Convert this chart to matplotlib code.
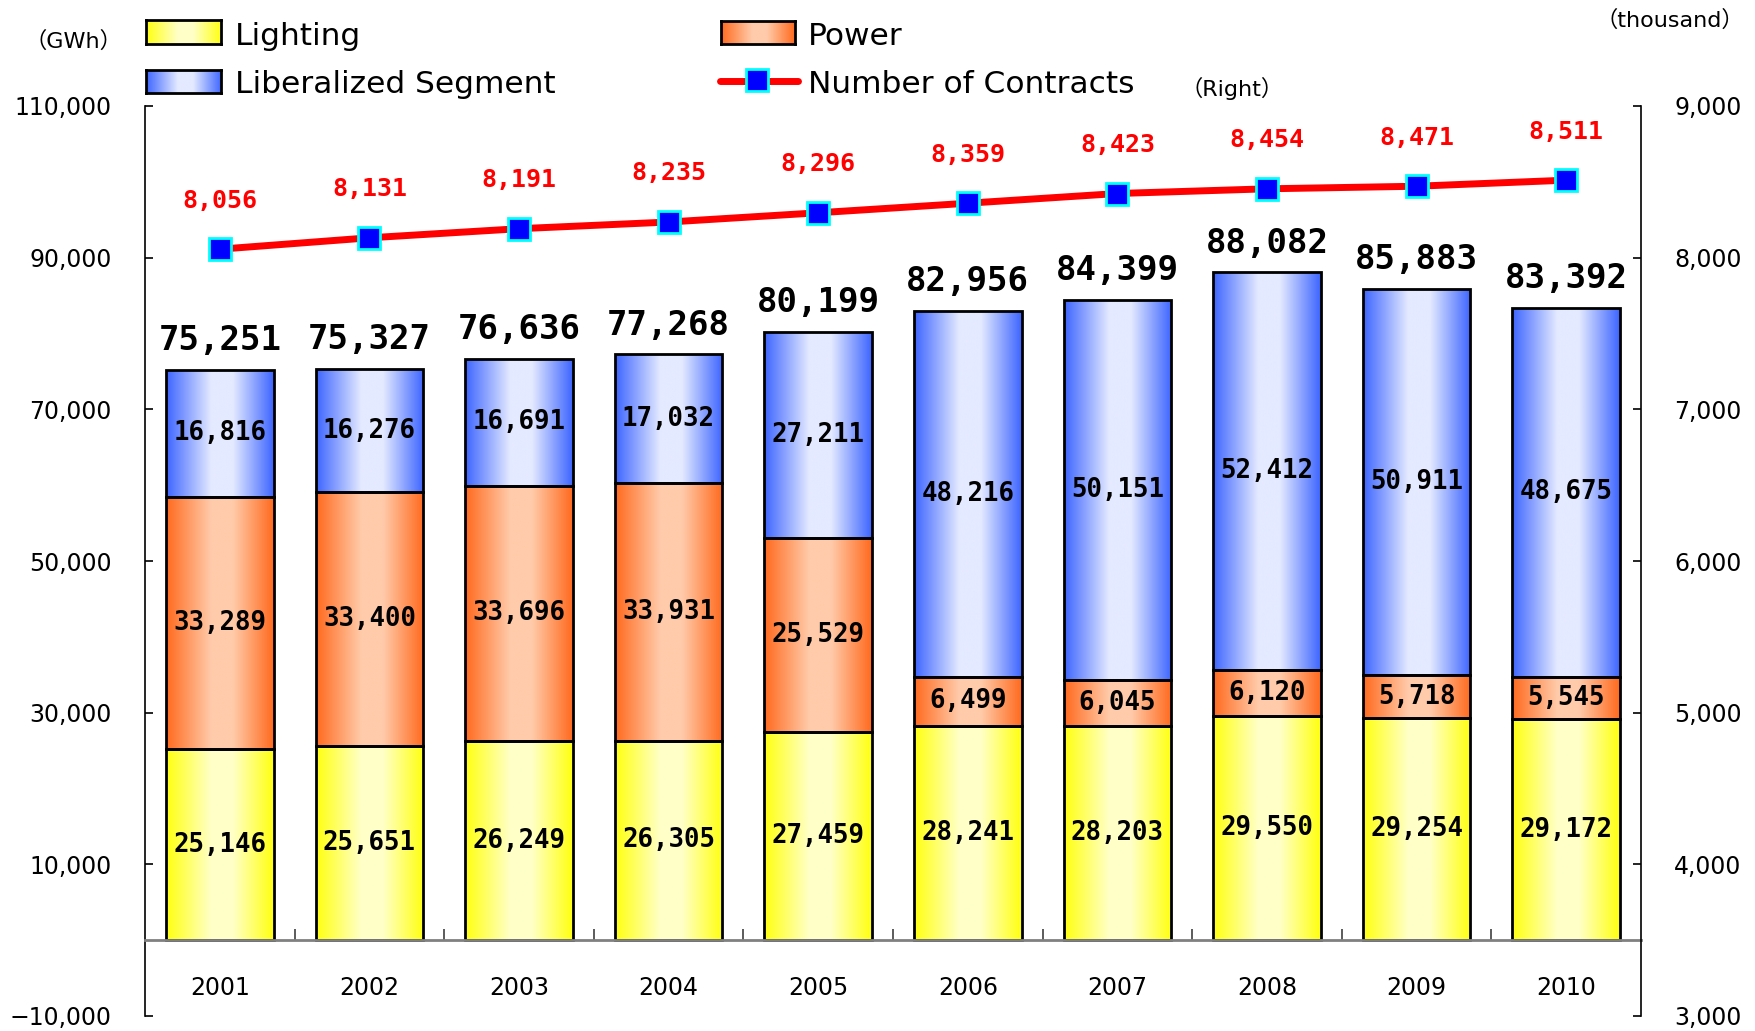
import numpy as np
import matplotlib
matplotlib.use("Agg")
import matplotlib.pyplot as plt
from matplotlib.colors import LinearSegmentedColormap
from matplotlib.lines import Line2D
from matplotlib.ticker import FuncFormatter

# data (GWh, thousand contracts)
years = ["2001", "2002", "2003", "2004", "2005", "2006", "2007", "2008", "2009", "2010"]
lighting = [25146, 25651, 26249, 26305, 27459, 28241, 28203, 29550, 29254, 29172]
power = [33289, 33400, 33696, 33931, 25529, 6499, 6045, 6120, 5718, 5545]
liberalized = [16816, 16276, 16691, 17032, 27211, 48216, 50151, 52412, 50911, 48675]
totals = [75251, 75327, 76636, 77268, 80199, 82956, 84399, 88082, 85883, 83392]
contracts = [8056, 8131, 8191, 8235, 8296, 8359, 8423, 8454, 8471, 8511]

W, H = 1756, 1031
CJK = ["DejaVu Sans", "Noto Sans CJK JP"]
MONO = "DejaVu Sans Mono"


def grad_cmap(edge, light):
    return LinearSegmentedColormap.from_list(
        "", [(0, edge), (0.42, light), (0.62, light), (1, edge)])


cm_light = grad_cmap("#FFFF10", "#FFFFC8")
cm_power = grad_cmap("#FF6A1E", "#FFCBAA")
cm_lib = grad_cmap("#3D65FF", "#E4EAFF")
grad = np.linspace(0, 1, 256).reshape(1, -1)

fig = plt.figure(figsize=(W / 100, H / 100), dpi=100)
ax = fig.add_axes([145 / W, 1 - 1016 / H, (1641 - 145) / W, (1016 - 106) / H])

x = np.arange(len(years))
bottom2 = np.array(lighting) + np.array(power)


def gradient_bars(bars, cmap):
    for r in bars:
        x0, y0 = r.get_x(), r.get_y()
        im = ax.imshow(grad, cmap=cmap, aspect="auto", interpolation="bilinear",
                       extent=(x0, x0 + r.get_width(), y0, y0 + r.get_height()),
                       zorder=1.5)
        im.set_clip_path(r)


def bar_labels(bars, values):
    for r, v in zip(bars, values):
        ax.text(r.get_x() + r.get_width() / 2, r.get_y() + r.get_height() / 2,
                f"{v:,}", ha="center", va="center", fontsize=18.5,
                fontfamily=MONO, fontweight="bold", zorder=3)


bw = 0.72
b1 = ax.bar(x, lighting, bw, facecolor="none", edgecolor="black", lw=2, zorder=2)
b2 = ax.bar(x, power, bw, bottom=lighting, facecolor="none", edgecolor="black", lw=2, zorder=2)
b3 = ax.bar(x, liberalized, bw, bottom=bottom2, facecolor="none", edgecolor="black", lw=2, zorder=2)
for bars, cm, vals in [(b1, cm_light, lighting), (b2, cm_power, power), (b3, cm_lib, liberalized)]:
    gradient_bars(bars, cm)
    bar_labels(bars, vals)

for xi, t in zip(x, totals):
    ax.annotate(f"{t:,}", (xi, t), xytext=(0, 21), textcoords="offset points",
                ha="center", va="center", fontsize=24.5, fontfamily=MONO,
                fontweight="bold")

ax.set_xlim(-0.5, 9.5)
ax.set_ylim(-10000, 110000)
ax.set_yticks(range(-10000, 110001, 20000))
ax.yaxis.set_major_formatter(FuncFormatter(lambda v, p: f"{int(v):,}".replace("-", "\u2212")))
ax.tick_params(axis="y", direction="in", length=6, width=1.2, pad=24, labelsize=17)

ax.spines["top"].set_visible(False)
ax.spines["right"].set_visible(False)
ax.spines["left"].set_linewidth(1.2)
ax.spines["bottom"].set_position(("data", 0))
ax.spines["bottom"].set_color("#808080")
ax.spines["bottom"].set_linewidth(2)
ax.set_xticks(np.arange(0.5, 9, 1))
ax.tick_params(axis="x", which="major", direction="in", length=8, width=1.2,
               color="#404040", labelbottom=False)
ax.set_xticks(x, minor=True)
ax.set_xticklabels(years, minor=True)
ax.tick_params(axis="x", which="minor", length=0, pad=26, labelsize=17)

# number of contracts on right axis
ax2 = ax.twinx()
ax2.plot(x, contracts, color="#FF0000", lw=5, marker="s", ms=16,
         mfc="#0000FF", mec="#00FFFF", mew=2, zorder=5)
for xi, c in zip(x, contracts):
    ax2.annotate(f"{c:,}", (xi, c), xytext=(0, 35), textcoords="offset points",
                 ha="center", va="center", fontsize=18, fontfamily=MONO,
                 fontweight="bold", color="#FF0000")
ax2.set_ylim(3000, 9000)
ax2.set_yticks(range(3000, 9001, 1000))
ax2.yaxis.set_major_formatter(FuncFormatter(lambda v, p: f"{int(v):,}"))
ax2.tick_params(axis="y", direction="in", length=6, width=1.2, pad=24, labelsize=17)
for s in ["top", "left", "bottom"]:
    ax2.spines[s].set_visible(False)
ax2.spines["right"].set_linewidth(1.2)

# unit labels
fig.text(73 / W, 1 - 41 / H, "（GWh）", ha="center", va="center", fontsize=16, family=CJK)
fig.text(1670 / W, 1 - 20 / H, "（thousand）", ha="center", va="center", fontsize=16, family=CJK)


# legend drawn by hand
def legend_patch(x0, y0, x1, y1, cmap):
    lax = fig.add_axes([x0 / W, 1 - y1 / H, (x1 - x0) / W, (y1 - y0) / H])
    lax.imshow(grad, cmap=cmap, aspect="auto", interpolation="bilinear")
    lax.set_xticks([])
    lax.set_yticks([])
    for s in lax.spines.values():
        s.set_linewidth(2)


legend_patch(146, 20, 221, 44, cm_light)
legend_patch(146, 70, 221, 93, cm_lib)
legend_patch(721, 21, 795, 44, cm_power)
fig.add_artist(Line2D([720 / W, 798 / W], [1 - 81 / H] * 2, transform=fig.transFigure,
                      color="#FF0000", lw=5, solid_capstyle="round"))
fig.add_artist(Line2D([757 / W], [1 - 80 / H], transform=fig.transFigure, marker="s",
                      ms=16, mfc="#0000FF", mec="#00FFFF", mew=2))
fig.text(235 / W, 1 - 45 / H, "Lighting", fontsize=22.5, va="baseline")
fig.text(235 / W, 1 - 93 / H, "Liberalized Segment", fontsize=22.5, va="baseline")
fig.text(808 / W, 1 - 45 / H, "Power", fontsize=22.5, va="baseline")
fig.text(808 / W, 1 - 93 / H, "Number of Contracts", fontsize=22.5, va="baseline")
fig.text(1232 / W, 1 - 88 / H, "（Right）", ha="center", va="center", fontsize=16, family=CJK)

fig.savefig("out.png", dpi=100)
